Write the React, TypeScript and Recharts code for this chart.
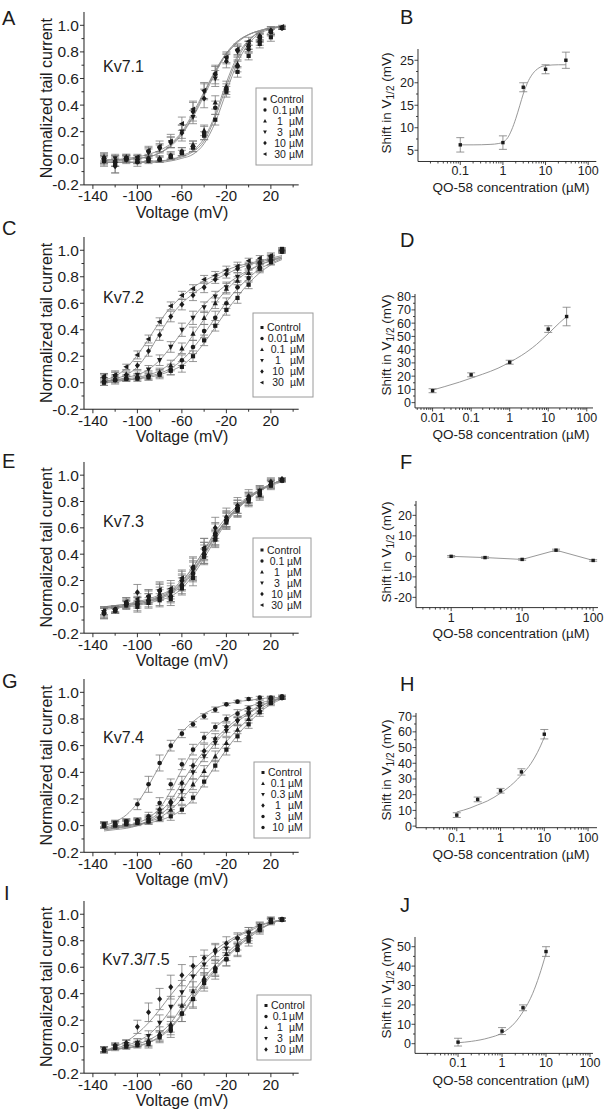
import React from 'react';
import { ComposedChart, Line, Scatter, XAxis, YAxis, ErrorBar } from 'recharts';

const FONT = '"Liberation Sans", Arial, Helvetica, sans-serif';
const INK = '#1c1c1c';
const FIT = '#8c8c8c';
const ERR = '#7c7c7c';

// ---------------- voltage axis data ----------------
const VOLTAGES = [-130, -120, -110, -100, -90, -80, -70, -60, -50, -40, -30, -20, -10, 0, 10, 20, 30];
const VOLT_TICKS = [-140, -120, -100, -80, -60, -40, -20, 0, 20, 40];
const VOLT_LABELS = [-140, -100, -60, -20, 20];
const CURRENT_TICKS = [-0.2, -0.1, 0, 0.1, 0.2, 0.3, 0.4, 0.5, 0.6, 0.7, 0.8, 0.9, 1.0];
const CURRENT_LABELS = [-0.2, 0, 0.2, 0.4, 0.6, 0.8, 1.0];

// Kv7.1
const kv71Legend = ['Control', '0.1', '1', '3', '10', '30'];
const kv71Ctrl = [-0.02, -0.03, -0.01, -0.02, -0.02, -0.01, 0.01, 0.04, 0.08, 0.17, 0.29, 0.5, 0.65, 0.77, 0.86, 0.91, 0.98];
const kv71C01 = [0.0, -0.05, 0.0, -0.03, 0.0, -0.01, 0.02, 0.05, 0.09, 0.19, 0.38, 0.52, 0.69, 0.82, 0.88, 0.95, 0.98];
const kv71C1 = [0.01, -0.02, 0.01, -0.02, 0.0, 0.0, 0.02, 0.05, 0.1, 0.21, 0.42, 0.54, 0.71, 0.85, 0.91, 0.96, 0.98];
const kv71C3 = [0.0, 0.0, 0.0, 0.0, 0.04, 0.07, 0.12, 0.2, 0.31, 0.5, 0.6, 0.75, 0.8, 0.85, 0.9, 0.95, 0.98];
const kv71C10 = [-0.02, -0.06, -0.01, -0.01, 0.05, 0.08, 0.12, 0.19, 0.35, 0.45, 0.63, 0.73, 0.81, 0.84, 0.92, 0.96, 0.98];
const kv71C30 = [-0.01, -0.02, 0.0, 0.01, 0.06, 0.09, 0.13, 0.26, 0.37, 0.51, 0.64, 0.76, 0.82, 0.88, 0.91, 0.95, 0.99];
const kv71FitCtrl = [-0.03, -0.03, -0.03, -0.03, -0.03, -0.03, -0.02, 0.0, 0.03, 0.11, 0.27, 0.5, 0.72, 0.86, 0.94, 0.97, 0.99];
const kv71Fit01 = [-0.03, -0.03, -0.03, -0.03, -0.03, -0.02, -0.01, 0.01, 0.05, 0.13, 0.31, 0.54, 0.75, 0.88, 0.95, 0.98, 0.99];
const kv71Fit1 = [-0.03, -0.03, -0.03, -0.03, -0.02, -0.02, -0.01, 0.02, 0.06, 0.15, 0.33, 0.57, 0.77, 0.89, 0.95, 0.98, 0.99];
const kv71Fit3 = [-0.02, -0.01, -0.01, 0.0, 0.01, 0.04, 0.1, 0.19, 0.32, 0.49, 0.65, 0.79, 0.88, 0.93, 0.96, 0.98, 0.99];
const kv71Fit10 = [-0.02, -0.02, -0.01, 0.0, 0.01, 0.04, 0.09, 0.18, 0.31, 0.47, 0.64, 0.78, 0.87, 0.93, 0.96, 0.98, 0.99];
const kv71Fit30 = [-0.01, -0.01, 0.0, 0.01, 0.03, 0.06, 0.11, 0.2, 0.34, 0.5, 0.66, 0.79, 0.88, 0.93, 0.96, 0.98, 0.99];
const kv71ErrCtrl = [0.03, 0.03, 0.02, 0.02, 0.02, 0.02, 0.02, 0.02, 0.03, 0.03, 0.04, 0.04, 0.04, 0.03, 0.03, 0.03, 0.01];
const kv71Err01 = [0.04, 0.06, 0.03, 0.03, 0.02, 0.02, 0.03, 0.03, 0.04, 0.05, 0.05, 0.04, 0.04, 0.03, 0.03, 0.03, 0.01];
const kv71Err1 = [0.03, 0.04, 0.02, 0.02, 0.02, 0.02, 0.02, 0.03, 0.03, 0.04, 0.05, 0.04, 0.03, 0.03, 0.03, 0.03, 0.01];
const kv71Err3 = [0.03, 0.03, 0.02, 0.02, 0.03, 0.03, 0.04, 0.05, 0.05, 0.06, 0.06, 0.04, 0.04, 0.03, 0.03, 0.02, 0.01];
const kv71Err10 = [0.04, 0.05, 0.03, 0.03, 0.03, 0.03, 0.04, 0.06, 0.07, 0.07, 0.07, 0.05, 0.04, 0.04, 0.03, 0.03, 0.01];
const kv71Err30 = [0.03, 0.04, 0.02, 0.02, 0.03, 0.04, 0.05, 0.05, 0.06, 0.06, 0.05, 0.04, 0.04, 0.03, 0.03, 0.02, 0.01];

// Kv7.2
const kv72Legend = ['Control', '0.01', '0.1', '1', '10', '30'];
const kv72Ctrl = [0.0, 0.02, 0.03, 0.03, 0.04, 0.06, 0.09, 0.12, 0.2, 0.32, 0.43, 0.55, 0.64, 0.74, 0.86, 0.91, 1.01];
const kv72C001 = [0.01, 0.02, 0.03, 0.04, 0.05, 0.07, 0.1, 0.17, 0.27, 0.39, 0.49, 0.6, 0.72, 0.79, 0.87, 0.92, 0.99];
const kv72C01 = [0.02, 0.03, 0.04, 0.05, 0.06, 0.08, 0.13, 0.26, 0.37, 0.49, 0.6, 0.71, 0.77, 0.83, 0.88, 0.94, 0.99];
const kv72C1 = [0.03, 0.05, 0.05, 0.06, 0.1, 0.17, 0.27, 0.4, 0.49, 0.57, 0.65, 0.72, 0.8, 0.86, 0.89, 0.94, 0.99];
const kv72C10 = [0.04, 0.05, 0.06, 0.13, 0.24, 0.36, 0.5, 0.59, 0.66, 0.72, 0.78, 0.82, 0.86, 0.88, 0.91, 0.95, 1.0];
const kv72C30 = [0.05, 0.06, 0.12, 0.21, 0.33, 0.46, 0.58, 0.66, 0.71, 0.78, 0.81, 0.85, 0.88, 0.92, 0.94, 0.96, 1.0];
const kv72FitCtrl = [0.0, 0.01, 0.02, 0.03, 0.04, 0.06, 0.09, 0.13, 0.2, 0.3, 0.42, 0.54, 0.65, 0.75, 0.83, 0.89, 0.93];
const kv72Fit001 = [0.0, 0.01, 0.02, 0.03, 0.05, 0.07, 0.11, 0.17, 0.26, 0.37, 0.49, 0.61, 0.71, 0.79, 0.86, 0.9, 0.94];
const kv72Fit01 = [0.01, 0.02, 0.03, 0.04, 0.06, 0.09, 0.15, 0.24, 0.36, 0.48, 0.6, 0.7, 0.78, 0.84, 0.89, 0.92, 0.95];
const kv72Fit1 = [0.01, 0.02, 0.04, 0.06, 0.1, 0.17, 0.27, 0.38, 0.49, 0.59, 0.67, 0.74, 0.8, 0.85, 0.89, 0.92, 0.94];
const kv72Fit10 = [0.01, 0.03, 0.06, 0.12, 0.23, 0.37, 0.5, 0.6, 0.67, 0.73, 0.78, 0.82, 0.86, 0.89, 0.91, 0.93, 0.95];
const kv72Fit30 = [0.02, 0.05, 0.11, 0.21, 0.33, 0.46, 0.57, 0.65, 0.72, 0.77, 0.81, 0.85, 0.88, 0.9, 0.92, 0.94, 0.96];
const kv72ErrCtrl = [0.02, 0.02, 0.02, 0.02, 0.02, 0.03, 0.03, 0.04, 0.04, 0.04, 0.04, 0.04, 0.04, 0.03, 0.03, 0.02, 0.01];
const kv72Err001 = [0.03, 0.03, 0.02, 0.02, 0.03, 0.03, 0.04, 0.04, 0.05, 0.05, 0.05, 0.04, 0.04, 0.03, 0.03, 0.03, 0.01];
const kv72Err01 = [0.02, 0.03, 0.02, 0.02, 0.03, 0.03, 0.04, 0.04, 0.05, 0.05, 0.04, 0.04, 0.03, 0.03, 0.03, 0.02, 0.01];
const kv72Err1 = [0.03, 0.03, 0.03, 0.03, 0.03, 0.04, 0.04, 0.05, 0.05, 0.04, 0.04, 0.04, 0.03, 0.03, 0.03, 0.02, 0.01];
const kv72Err10 = [0.03, 0.03, 0.03, 0.03, 0.04, 0.04, 0.04, 0.04, 0.04, 0.04, 0.03, 0.03, 0.03, 0.03, 0.02, 0.02, 0.01];
const kv72Err30 = [0.02, 0.03, 0.02, 0.03, 0.03, 0.03, 0.03, 0.03, 0.03, 0.03, 0.03, 0.03, 0.03, 0.02, 0.02, 0.02, 0.01];

// Kv7.3
const kv73Legend = ['Control', '0.1', '1', '3', '10', '30'];
const kv73Ctrl = [-0.04, -0.03, 0.01, 0.0, 0.03, 0.05, 0.06, 0.14, 0.22, 0.38, 0.51, 0.64, 0.73, 0.8, 0.85, 0.92, 0.96];
const kv73C01 = [-0.05, -0.02, 0.02, 0.02, 0.05, 0.07, 0.08, 0.16, 0.25, 0.4, 0.55, 0.66, 0.75, 0.82, 0.86, 0.93, 0.96];
const kv73C1 = [-0.03, -0.02, 0.03, 0.04, 0.06, 0.1, 0.09, 0.18, 0.27, 0.41, 0.57, 0.67, 0.76, 0.83, 0.87, 0.94, 0.97];
const kv73C3 = [-0.04, -0.03, 0.02, 0.03, 0.07, 0.11, 0.1, 0.19, 0.28, 0.42, 0.53, 0.65, 0.74, 0.81, 0.88, 0.94, 0.96];
const kv73C10 = [-0.05, -0.02, 0.03, 0.11, 0.08, 0.12, 0.12, 0.2, 0.3, 0.44, 0.6, 0.68, 0.77, 0.84, 0.88, 0.95, 0.97];
const kv73C30 = [-0.03, -0.02, 0.04, 0.06, 0.08, 0.13, 0.14, 0.22, 0.3, 0.45, 0.52, 0.66, 0.74, 0.82, 0.87, 0.93, 0.96];
const kv73FitCtrl = [-0.02, -0.01, 0.0, 0.01, 0.03, 0.05, 0.08, 0.14, 0.24, 0.37, 0.51, 0.64, 0.74, 0.82, 0.88, 0.93, 0.96];
const kv73Fit01 = [-0.01, 0.0, 0.01, 0.02, 0.04, 0.06, 0.1, 0.16, 0.26, 0.39, 0.53, 0.65, 0.75, 0.83, 0.89, 0.93, 0.96];
const kv73Fit1 = [-0.01, 0.0, 0.01, 0.02, 0.04, 0.07, 0.11, 0.17, 0.27, 0.4, 0.54, 0.66, 0.76, 0.83, 0.89, 0.93, 0.96];
const kv73Fit3 = [0.0, 0.0, 0.01, 0.03, 0.05, 0.07, 0.11, 0.18, 0.28, 0.41, 0.54, 0.66, 0.75, 0.83, 0.88, 0.93, 0.96];
const kv73Fit10 = [0.0, 0.01, 0.02, 0.03, 0.05, 0.08, 0.12, 0.19, 0.3, 0.43, 0.57, 0.68, 0.77, 0.84, 0.89, 0.93, 0.96];
const kv73Fit30 = [0.0, 0.01, 0.02, 0.04, 0.06, 0.09, 0.13, 0.2, 0.3, 0.43, 0.55, 0.66, 0.75, 0.82, 0.88, 0.92, 0.95];
const kv73ErrCtrl = [0.03, 0.02, 0.03, 0.04, 0.04, 0.05, 0.05, 0.05, 0.06, 0.06, 0.06, 0.05, 0.05, 0.04, 0.04, 0.03, 0.01];
const kv73Err01 = [0.04, 0.02, 0.03, 0.05, 0.05, 0.06, 0.05, 0.06, 0.06, 0.07, 0.08, 0.06, 0.06, 0.05, 0.04, 0.03, 0.01];
const kv73Err1 = [0.03, 0.02, 0.03, 0.04, 0.04, 0.05, 0.05, 0.06, 0.07, 0.08, 0.07, 0.06, 0.05, 0.04, 0.04, 0.03, 0.01];
const kv73Err3 = [0.04, 0.02, 0.03, 0.04, 0.05, 0.06, 0.06, 0.06, 0.07, 0.07, 0.06, 0.06, 0.05, 0.04, 0.04, 0.03, 0.01];
const kv73Err10 = [0.04, 0.03, 0.04, 0.06, 0.05, 0.06, 0.06, 0.07, 0.08, 0.08, 0.08, 0.07, 0.06, 0.05, 0.04, 0.03, 0.01];
const kv73Err30 = [0.03, 0.02, 0.03, 0.04, 0.05, 0.06, 0.06, 0.06, 0.07, 0.07, 0.06, 0.06, 0.05, 0.04, 0.04, 0.03, 0.01];

// Kv7.4
const kv74Legend = ['Control', '0.1', '0.3', '1', '3', '10'];
const kv74Ctrl = [0.0, 0.0, 0.01, 0.02, 0.03, 0.05, 0.07, 0.12, 0.21, 0.33, 0.45, 0.57, 0.67, 0.76, 0.85, 0.92, 0.96];
const kv74C01 = [0.0, 0.01, 0.02, 0.03, 0.04, 0.07, 0.12, 0.2, 0.31, 0.41, 0.52, 0.62, 0.72, 0.8, 0.87, 0.93, 0.96];
const kv74C03 = [0.01, 0.02, 0.03, 0.03, 0.04, 0.09, 0.16, 0.26, 0.4, 0.52, 0.62, 0.71, 0.78, 0.83, 0.89, 0.94, 0.96];
const kv74C1 = [0.0, 0.01, 0.02, 0.03, 0.05, 0.12, 0.18, 0.32, 0.45, 0.56, 0.65, 0.74, 0.79, 0.85, 0.9, 0.95, 0.96];
const kv74C3 = [0.01, 0.02, 0.03, 0.04, 0.07, 0.17, 0.31, 0.46, 0.57, 0.66, 0.74, 0.8, 0.84, 0.88, 0.92, 0.95, 0.96];
const kv74C10 = [0.0, 0.01, 0.03, 0.16, 0.31, 0.47, 0.6, 0.69, 0.76, 0.82, 0.87, 0.91, 0.93, 0.95, 0.96, 0.96, 0.97];
const kv74FitCtrl = [-0.01, 0.0, 0.0, 0.01, 0.02, 0.04, 0.07, 0.12, 0.2, 0.32, 0.45, 0.57, 0.68, 0.77, 0.85, 0.91, 0.95];
const kv74Fit01 = [-0.02, -0.01, 0.0, 0.01, 0.03, 0.06, 0.12, 0.2, 0.3, 0.41, 0.52, 0.63, 0.72, 0.8, 0.87, 0.92, 0.96];
const kv74Fit03 = [-0.03, -0.02, -0.01, 0.0, 0.03, 0.08, 0.15, 0.26, 0.39, 0.51, 0.62, 0.71, 0.78, 0.84, 0.89, 0.93, 0.96];
const kv74Fit1 = [-0.04, -0.03, -0.02, 0.0, 0.04, 0.1, 0.19, 0.32, 0.45, 0.56, 0.65, 0.73, 0.8, 0.85, 0.9, 0.93, 0.96];
const kv74Fit3 = [-0.03, -0.02, 0.0, 0.02, 0.06, 0.13, 0.26, 0.42, 0.56, 0.66, 0.74, 0.8, 0.85, 0.89, 0.92, 0.94, 0.96];
const kv74Fit10 = [0.0, 0.03, 0.08, 0.17, 0.3, 0.45, 0.59, 0.7, 0.78, 0.84, 0.88, 0.91, 0.93, 0.94, 0.95, 0.96, 0.96];
const kv74ErrCtrl = [0.02, 0.02, 0.02, 0.02, 0.02, 0.02, 0.03, 0.03, 0.04, 0.04, 0.04, 0.04, 0.04, 0.03, 0.03, 0.02, 0.01];
const kv74Err01 = [0.02, 0.02, 0.02, 0.02, 0.02, 0.03, 0.03, 0.04, 0.04, 0.04, 0.04, 0.04, 0.03, 0.03, 0.03, 0.02, 0.01];
const kv74Err03 = [0.02, 0.02, 0.02, 0.02, 0.03, 0.03, 0.04, 0.05, 0.05, 0.04, 0.04, 0.04, 0.03, 0.03, 0.03, 0.02, 0.01];
const kv74Err1 = [0.02, 0.02, 0.02, 0.02, 0.03, 0.03, 0.04, 0.05, 0.05, 0.05, 0.04, 0.04, 0.03, 0.03, 0.02, 0.02, 0.01];
const kv74Err3 = [0.02, 0.02, 0.02, 0.02, 0.03, 0.04, 0.04, 0.04, 0.04, 0.04, 0.03, 0.03, 0.03, 0.02, 0.02, 0.02, 0.01];
const kv74Err10 = [0.02, 0.02, 0.02, 0.04, 0.06, 0.06, 0.04, 0.03, 0.02, 0.02, 0.02, 0.01, 0.01, 0.01, 0.01, 0.01, 0.01];

// Kv7.3/7.5
const kv75Legend = ['Control', '0.1', '1', '3', '10'];
const kv75Ctrl = [-0.03, -0.01, 0.0, 0.01, 0.02, 0.07, 0.14, 0.25, 0.36, 0.48, 0.57, 0.66, 0.73, 0.8, 0.88, 0.94, 0.96];
const kv75C01 = [-0.02, 0.0, 0.01, 0.02, 0.03, 0.08, 0.12, 0.25, 0.36, 0.5, 0.59, 0.66, 0.74, 0.82, 0.89, 0.95, 0.96];
const kv75C1 = [-0.02, 0.0, 0.02, 0.03, 0.05, 0.1, 0.17, 0.31, 0.42, 0.52, 0.6, 0.7, 0.77, 0.84, 0.9, 0.95, 0.96];
const kv75C3 = [-0.02, 0.0, 0.02, 0.03, 0.08, 0.18, 0.3, 0.41, 0.53, 0.62, 0.71, 0.74, 0.81, 0.86, 0.91, 0.96, 0.96];
const kv75C10 = [-0.02, 0.01, 0.03, 0.15, 0.26, 0.36, 0.45, 0.54, 0.61, 0.67, 0.73, 0.78, 0.82, 0.86, 0.91, 0.95, 0.96];
const kv75FitCtrl = [-0.03, -0.02, -0.01, 0.0, 0.03, 0.07, 0.14, 0.24, 0.36, 0.47, 0.58, 0.67, 0.75, 0.82, 0.88, 0.93, 0.96];
const kv75Fit01 = [-0.03, -0.02, -0.01, 0.01, 0.03, 0.08, 0.15, 0.25, 0.37, 0.49, 0.59, 0.68, 0.76, 0.83, 0.89, 0.93, 0.96];
const kv75Fit1 = [-0.03, -0.02, 0.0, 0.02, 0.05, 0.1, 0.18, 0.3, 0.41, 0.52, 0.62, 0.7, 0.78, 0.84, 0.89, 0.93, 0.96];
const kv75Fit3 = [-0.03, -0.01, 0.01, 0.04, 0.09, 0.17, 0.28, 0.4, 0.52, 0.62, 0.7, 0.77, 0.83, 0.87, 0.91, 0.94, 0.96];
const kv75Fit10 = [-0.03, 0.0, 0.04, 0.1, 0.18, 0.28, 0.39, 0.49, 0.58, 0.66, 0.73, 0.79, 0.84, 0.88, 0.92, 0.94, 0.96];
const kv75ErrCtrl = [0.02, 0.02, 0.02, 0.02, 0.03, 0.04, 0.05, 0.06, 0.06, 0.06, 0.06, 0.05, 0.05, 0.04, 0.03, 0.02, 0.01];
const kv75Err01 = [0.02, 0.02, 0.02, 0.02, 0.03, 0.04, 0.05, 0.06, 0.07, 0.06, 0.06, 0.05, 0.05, 0.04, 0.03, 0.02, 0.01];
const kv75Err1 = [0.02, 0.02, 0.03, 0.03, 0.04, 0.05, 0.06, 0.07, 0.07, 0.07, 0.06, 0.05, 0.04, 0.04, 0.03, 0.02, 0.01];
const kv75Err3 = [0.02, 0.02, 0.03, 0.03, 0.04, 0.06, 0.08, 0.09, 0.08, 0.07, 0.06, 0.05, 0.04, 0.04, 0.03, 0.02, 0.01];
const kv75Err10 = [0.02, 0.02, 0.02, 0.05, 0.07, 0.08, 0.09, 0.08, 0.07, 0.06, 0.05, 0.05, 0.04, 0.04, 0.03, 0.02, 0.01];

// ---------------- dose-response data ----------------
const bConc = [0.1, 1, 3, 10, 30];
const bShift = [6.2, 6.7, 19, 23, 25];
const bErr = [1.6, 1.5, 1.0, 1.0, 1.8];
const bFitConc = [0.1, 0.2, 0.5, 0.8, 1, 1.3, 1.6, 2, 2.5, 3, 4, 5, 7, 10, 20, 30];
const bFit = [6.2, 6.2, 6.3, 6.5, 6.8, 7.8, 9.5, 12, 15, 17.5, 20.5, 22, 23.3, 23.8, 24, 24];

const dConc = [0.01, 0.1, 1, 10, 30];
const dShift = [9, 21, 30.5, 55.5, 65];
const dErr = [1.5, 1.5, 1.5, 2.5, 7];
const dFitConc = [0.01, 0.02, 0.05, 0.1, 0.2, 0.5, 1, 2, 5, 10, 20, 30];
const dFit = [9.5, 12, 15.5, 18.5, 21.5, 26, 30.5, 35.5, 44, 52, 60.5, 65];

const fConc = [1, 3, 10, 30, 100];
const fShift = [0, -0.6, -1.5, 3, -2];
const fErr = [0.4, 0.4, 0.4, 0.5, 0.4];

const hConc = [0.1, 0.3, 1, 3, 10];
const hShift = [7, 17, 22.5, 34.5, 58.5];
const hErr = [1.5, 1.5, 1.5, 2, 3];
const hFitConc = [0.1, 0.2, 0.3, 0.5, 1, 2, 3, 5, 7, 10];
const hFit = [9, 11.5, 13.5, 16, 21, 27.5, 32.5, 40, 47, 56.5];

const jConc = [0.1, 1, 3, 10];
const jShift = [0.8, 6.5, 18.5, 47.5];
const jErr = [2, 1.8, 1.5, 2.5];
const jFitConc = [0.1, 0.2, 0.5, 1, 2, 3, 5, 7, 10];
const jFit = [0.5, 1.2, 3, 5.5, 11, 16.5, 26, 35, 46.5];

// ---------------- drawing helpers ----------------
type Kind = 'square' | 'circle' | 'up' | 'down' | 'diamond' | 'left';

function Mark({ cx, cy, kind, s = 2.1 }: { cx?: number; cy?: number; kind: Kind; s?: number }) {
  if (cx == null || cy == null || isNaN(cx) || isNaN(cy)) return null;
  switch (kind) {
    case 'square':
      return <rect x={cx - s} y={cy - s} width={2 * s} height={2 * s} fill={INK} />;
    case 'circle':
      return <circle cx={cx} cy={cy} r={s * 1.1} fill={INK} />;
    case 'up':
      return <polygon points={`${cx},${cy - s * 1.4} ${cx + s * 1.25},${cy + s} ${cx - s * 1.25},${cy + s}`} fill={INK} />;
    case 'down':
      return <polygon points={`${cx},${cy + s * 1.4} ${cx + s * 1.25},${cy - s} ${cx - s * 1.25},${cy - s}`} fill={INK} />;
    case 'diamond':
      return <polygon points={`${cx},${cy - s * 1.45} ${cx + s * 1.2},${cy} ${cx},${cy + s * 1.45} ${cx - s * 1.2},${cy}`} fill={INK} />;
    default:
      return <polygon points={`${cx - s * 1.4},${cy} ${cx + s},${cy - s * 1.25} ${cx + s},${cy + s * 1.25}`} fill={INK} />;
  }
}

const near = (list: number[], v: number) => list.some((l) => Math.abs(l - v) < 1e-6);

const VoltXTick = (p: any) => {
  const v = p.payload.value;
  const major = near(VOLT_LABELS, v);
  return (
    <g>
      <line x1={p.x} x2={p.x} y1={p.y} y2={p.y + (major ? 4 : 2.5)} stroke={INK} strokeWidth={0.9} />
      {major && (
        <text x={p.x} y={p.y + 16.5} textAnchor="middle" fontSize={15} fontFamily={FONT} fill={INK}>
          {v}
        </text>
      )}
    </g>
  );
};

const CurYTick = (p: any) => {
  const v = p.payload.value;
  const major = near(CURRENT_LABELS, v);
  return (
    <g>
      <line x1={p.x} x2={p.x - (major ? 4 : 2.5)} y1={p.y} y2={p.y} stroke={INK} strokeWidth={0.9} />
      {major && (
        <text x={p.x - 5} y={p.y + 5.5} textAnchor="end" fontSize={15.5} fontFamily={FONT} fill={INK}>
          {v.toFixed(1)}
        </text>
      )}
    </g>
  );
};

const makeLogXTick = (majors: number[]) => (p: any) => {
  const v = p.payload.value;
  const major = near(majors, v);
  return (
    <g>
      <line x1={p.x} x2={p.x} y1={p.y} y2={p.y + (major ? 3.5 : 2)} stroke={INK} strokeWidth={0.8} />
      {major && (
        <text x={p.x} y={p.y + 14} textAnchor="middle" fontSize={12.5} fontFamily={FONT} fill={INK}>
          {String(v)}
        </text>
      )}
    </g>
  );
};

const makeLinYTick = (majors: number[]) => (p: any) => {
  const v = p.payload.value;
  const major = near(majors, v);
  return (
    <g>
      <line x1={p.x} x2={p.x - (major ? 3.5 : 2)} y1={p.y} y2={p.y} stroke={INK} strokeWidth={0.8} />
      {major && (
        <text x={p.x - 4} y={p.y + 4.5} textAnchor="end" fontSize={12.5} fontFamily={FONT} fill={INK}>
          {String(v)}
        </text>
      )}
    </g>
  );
};

function logTicks(lo: number, hi: number) {
  const out: number[] = [];
  [0.001, 0.01, 0.1, 1, 10, 100].forEach((d) => {
    for (let m = 1; m <= 9; m++) {
      const v = parseFloat((m * d).toPrecision(6));
      if (v >= lo && v <= hi) out.push(v);
    }
  });
  return out;
}

// ---------------- left (voltage) panels ----------------
const LEFT_L = 84;
const LEFT_R = 298.7;

type VoltCfg = {
  top: number;
  bottom: number;
  pts: number[][];
  fits: number[][];
  errs: number[][];
  kinds: Kind[];
};

function VoltageChart({ cfg }: { cfg: VoltCfg }) {
  const pl = LEFT_L;
  const pr = LEFT_R;
  const W = pr - pl + 70;
  const H = cfg.bottom - cfg.top + 45;
  const rows = VOLTAGES.map((v, i) => {
    const r: any = { v };
    cfg.fits.forEach((f, j) => {
      r['f' + j] = f[i];
    });
    return r;
  });
  return (
    <div style={{ position: 'absolute', left: pl - 60, top: cfg.top - 10 }}>
      <ComposedChart width={W} height={H} data={rows} margin={{ top: 10, right: 10, left: 20, bottom: 5 }}>
        <XAxis
          dataKey="v"
          type="number"
          domain={[-148, 45]}
          allowDataOverflow
          ticks={VOLT_TICKS}
          interval={0}
          height={30}
          tickSize={0}
          tickMargin={0}
          tickLine={false}
          axisLine={{ stroke: INK, strokeWidth: 1 }}
          tick={VoltXTick}
        />
        <YAxis
          type="number"
          domain={[-0.2, 1.1]}
          allowDataOverflow
          ticks={CURRENT_TICKS}
          interval={0}
          width={40}
          tickSize={0}
          tickMargin={0}
          tickLine={false}
          axisLine={{ stroke: INK, strokeWidth: 1 }}
          tick={CurYTick}
        />
        {cfg.fits.map((_, j) => (
          <Line
            key={'fit' + j}
            dataKey={'f' + j}
            type="monotone"
            stroke={FIT}
            strokeWidth={0.9}
            dot={false}
            activeDot={false}
            isAnimationActive={false}
          />
        ))}
        {cfg.pts.map((series, j) => {
          const data = VOLTAGES.map((v, i) => ({ v, y: series[i], e: cfg.errs[j][i] }));
          const kind = cfg.kinds[j];
          return (
            <Scatter
              key={'pts' + j}
              data={data}
              dataKey="y"
              isAnimationActive={false}
              shape={(p: any) => <Mark cx={p.cx} cy={p.cy} kind={kind} />}
            >
              <ErrorBar dataKey="e" direction="y" width={4} stroke={ERR} strokeWidth={0.8} />
            </Scatter>
          );
        })}
      </ComposedChart>
    </div>
  );
}

// ---------------- right (dose) panels ----------------
type DoseCfg = {
  l: number;
  r: number;
  t: number;
  b: number;
  xDomain: [number, number];
  xMajors: number[];
  yDomain: [number, number];
  yTicks: number[];
  yMajors: number[];
  conc: number[];
  shift: number[];
  err: number[];
  fitConc: number[];
  fit: number[];
  straight?: boolean;
};

function DoseChart({ cfg }: { cfg: DoseCfg }) {
  const W = cfg.r - cfg.l + 55;
  const H = cfg.b - cfg.t + 35;
  const fitRows = cfg.fitConc.map((c, i) => ({ c, f: cfg.fit[i] }));
  const ptRows = cfg.conc.map((c, i) => ({ c, y: cfg.shift[i], e: cfg.err[i] }));
  return (
    <div style={{ position: 'absolute', left: cfg.l - 45, top: cfg.t - 10 }}>
      <ComposedChart width={W} height={H} data={fitRows} margin={{ top: 10, right: 10, left: 5, bottom: 5 }}>
        <XAxis
          dataKey="c"
          type="number"
          scale="log"
          domain={cfg.xDomain}
          allowDataOverflow
          ticks={logTicks(cfg.xDomain[0], cfg.xDomain[1])}
          interval={0}
          height={20}
          tickSize={0}
          tickMargin={0}
          tickLine={false}
          axisLine={{ stroke: INK, strokeWidth: 0.9 }}
          tick={makeLogXTick(cfg.xMajors)}
        />
        <YAxis
          type="number"
          domain={cfg.yDomain}
          allowDataOverflow
          ticks={cfg.yTicks}
          interval={0}
          width={40}
          tickSize={0}
          tickMargin={0}
          tickLine={false}
          axisLine={{ stroke: INK, strokeWidth: 0.9 }}
          tick={makeLinYTick(cfg.yMajors)}
        />
        <Line
          dataKey="f"
          type={cfg.straight ? 'linear' : 'monotone'}
          stroke={FIT}
          strokeWidth={0.9}
          dot={false}
          activeDot={false}
          isAnimationActive={false}
        />
        <Scatter
          data={ptRows}
          dataKey="y"
          isAnimationActive={false}
          shape={(p: any) => <Mark cx={p.cx} cy={p.cy} kind="square" s={1.7} />}
        >
          <ErrorBar dataKey="e" direction="y" width={4} stroke={ERR} strokeWidth={0.8} />
        </Scatter>
      </ComposedChart>
    </div>
  );
}

// ---------------- legend & labels ----------------
function LegendBox({
  x,
  y,
  w,
  h,
  labels,
  kinds,
  numX,
  muX,
}: {
  x: number;
  y: number;
  w: number;
  h: number;
  labels: string[];
  kinds: Kind[];
  numX: number;
  muX: number;
}) {
  const gap = 11;
  const first = y + h / 2 - (gap * (labels.length - 1)) / 2;
  return (
    <g>
      <rect x={x} y={y} width={w} height={h} fill="#fff" stroke="#9a9a9a" strokeWidth={1} />
      {labels.map((lab, i) => {
        const cy = first + i * gap;
        return (
          <g key={i}>
            <Mark cx={x + 9} cy={cy} kind={kinds[i]} s={1.5} />
            {lab === 'Control' ? (
              <text x={x + 14} y={cy + 3.8} fontSize={10.5} fontFamily={FONT} fill={INK}>
                Control
              </text>
            ) : (
              <>
                <text x={x + numX} y={cy + 3.8} textAnchor="middle" fontSize={10.5} fontFamily={FONT} fill={INK}>
                  {lab}
                </text>
                <text x={x + muX} y={cy + 3.8} fontSize={10.5} fontFamily={FONT} fill={INK}>
                  µM
                </text>
              </>
            )}
          </g>
        );
      })}
    </g>
  );
}

const SIX: Kind[] = ['square', 'circle', 'up', 'down', 'diamond', 'left'];
const SIX74: Kind[] = ['square', 'up', 'down', 'diamond', 'circle', 'circle'];
const FIVE: Kind[] = ['square', 'circle', 'up', 'down', 'diamond'];

const voltPanels: VoltCfg[] = [
  {
    top: 11.7,
    bottom: 184.6,
    pts: [kv71Ctrl, kv71C01, kv71C1, kv71C3, kv71C10, kv71C30],
    fits: [kv71FitCtrl, kv71Fit01, kv71Fit1, kv71Fit3, kv71Fit10, kv71Fit30],
    errs: [kv71ErrCtrl, kv71Err01, kv71Err1, kv71Err3, kv71Err10, kv71Err30],
    kinds: SIX,
  },
  {
    top: 236.75,
    bottom: 409,
    pts: [kv72Ctrl, kv72C001, kv72C01, kv72C1, kv72C10, kv72C30],
    fits: [kv72FitCtrl, kv72Fit001, kv72Fit01, kv72Fit1, kv72Fit10, kv72Fit30],
    errs: [kv72ErrCtrl, kv72Err001, kv72Err01, kv72Err1, kv72Err10, kv72Err30],
    kinds: SIX,
  },
  {
    top: 461.8,
    bottom: 633,
    pts: [kv73Ctrl, kv73C01, kv73C1, kv73C3, kv73C10, kv73C30],
    fits: [kv73FitCtrl, kv73Fit01, kv73Fit1, kv73Fit3, kv73Fit10, kv73Fit30],
    errs: [kv73ErrCtrl, kv73Err01, kv73Err1, kv73Err3, kv73Err10, kv73Err30],
    kinds: SIX,
  },
  {
    top: 678.7,
    bottom: 852,
    pts: [kv74Ctrl, kv74C01, kv74C03, kv74C1, kv74C3, kv74C10],
    fits: [kv74FitCtrl, kv74Fit01, kv74Fit03, kv74Fit1, kv74Fit3, kv74Fit10],
    errs: [kv74ErrCtrl, kv74Err01, kv74Err03, kv74Err1, kv74Err3, kv74Err10],
    kinds: SIX74,
  },
  {
    top: 900.8,
    bottom: 1073,
    pts: [kv75Ctrl, kv75C01, kv75C1, kv75C3, kv75C10],
    fits: [kv75FitCtrl, kv75Fit01, kv75Fit1, kv75Fit3, kv75Fit10],
    errs: [kv75ErrCtrl, kv75Err01, kv75Err1, kv75Err3, kv75Err10],
    kinds: FIVE,
  },
];

const doseNoFit = { fitConc: fConc, fit: fShift };

const dosePanels: DoseCfg[] = [
  {
    l: 417.7, r: 596, t: 48.75, b: 161.25,
    xDomain: [0.0102, 155], xMajors: [0.1, 1, 10, 100],
    yDomain: [2.5, 27.5], yTicks: [5, 7.5, 10, 12.5, 15, 17.5, 20, 22.5, 25], yMajors: [5, 10, 15, 20, 25],
    conc: bConc, shift: bShift, err: bErr, fitConc: bFitConc, fit: bFit,
  },
  {
    l: 415, r: 593, t: 294.35, b: 408.3,
    xDomain: [0.0035, 145], xMajors: [0.01, 0.1, 1, 10, 100],
    yDomain: [-4, 82], yTicks: [0, 5, 10, 15, 20, 25, 30, 35, 40, 45, 50, 55, 60, 65, 70, 75, 80], yMajors: [0, 10, 20, 30, 40, 50, 60, 70, 80],
    conc: dConc, shift: dShift, err: dErr, fitConc: dFitConc, fit: dFit,
  },
  {
    l: 416, r: 598, t: 500.65, b: 607.25,
    xDomain: [0.32, 117], xMajors: [1, 10, 100],
    yDomain: [-25, 27], yTicks: [-20, -15, -10, -5, 0, 5, 10, 15, 20, 25], yMajors: [-20, -10, 0, 10, 20],
    conc: fConc, shift: fShift, err: fErr, ...doseNoFit, straight: true,
  },
  {
    l: 416, r: 597, t: 712.9, b: 827.6,
    xDomain: [0.0117, 160], xMajors: [0.1, 1, 10, 100],
    yDomain: [-1, 72], yTicks: [0, 5, 10, 15, 20, 25, 30, 35, 40, 45, 50, 55, 60, 65, 70], yMajors: [0, 10, 20, 30, 40, 50, 60, 70],
    conc: hConc, shift: hShift, err: hErr, fitConc: hFitConc, fit: hFit,
  },
  {
    l: 415, r: 593, t: 937.3, b: 1053.7,
    xDomain: [0.0105, 117], xMajors: [0.1, 1, 10, 100],
    yDomain: [-5, 55], yTicks: [0, 5, 10, 15, 20, 25, 30, 35, 40, 45, 50], yMajors: [0, 10, 20, 30, 40, 50],
    conc: jConc, shift: jShift, err: jErr, fitConc: jFitConc, fit: jFit,
  },
];

const PANEL_LETTERS = [
  { t: 'A', x: 2, y: 25 },
  { t: 'C', x: 2, y: 235 },
  { t: 'E', x: 2, y: 468 },
  { t: 'G', x: 2, y: 688 },
  { t: 'I', x: 4, y: 900 },
  { t: 'B', x: 400, y: 24 },
  { t: 'D', x: 400, y: 247 },
  { t: 'F', x: 400, y: 469 },
  { t: 'H', x: 400, y: 691 },
  { t: 'J', x: 400, y: 912 },
];

const CHANNELS = [
  { t: 'Kv7.1', x: 103, y: 72 },
  { t: 'Kv7.2', x: 103, y: 303 },
  { t: 'Kv7.3', x: 103, y: 527 },
  { t: 'Kv7.4', x: 103, y: 743 },
  { t: 'Kv7.3/7.5', x: 102, y: 965 },
];

const LEGENDS = [
  { x: 256, y: 88, w: 56, h: 77, labels: kv71Legend, kinds: SIX, numX: 24, muX: 33 },
  { x: 253, y: 313, w: 60, h: 84, labels: kv72Legend, kinds: SIX, numX: 25, muX: 37 },
  { x: 253, y: 538, w: 58, h: 79, labels: kv73Legend, kinds: SIX, numX: 24, muX: 34 },
  { x: 254, y: 762, w: 56, h: 76, labels: kv74Legend, kinds: SIX74, numX: 24, muX: 34 },
  { x: 257, y: 995, w: 54, h: 65, labels: kv75Legend, kinds: FIVE, numX: 23, muX: 32 },
];

function Overlay() {
  return (
    <svg
      width={604}
      height={1111}
      style={{ position: 'absolute', left: 0, top: 0, pointerEvents: 'none' }}
      fontFamily={FONT}
    >
      {PANEL_LETTERS.map((p) => (
        <text key={p.t} x={p.x} y={p.y} fontSize={20} fill={INK}>
          {p.t}
        </text>
      ))}
      {CHANNELS.map((c) => (
        <text key={c.t} x={c.x} y={c.y} fontSize={16} fill={INK}>
          {c.t}
        </text>
      ))}
      {voltPanels.map((p, i) => (
        <g key={'vt' + i}>
          <text
            transform={`translate(52,${(p.top + p.bottom) / 2}) rotate(-90)`}
            textAnchor="middle"
            fontSize={16}
            fill={INK}
          >
            Normalized tail current
          </text>
          <text x={182} y={p.bottom + 33} textAnchor="middle" fontSize={16} fill={INK}>
            Voltage (mV)
          </text>
        </g>
      ))}
      {dosePanels.map((p, i) => {
        const centers = [103, 345, 552, 770, 988];
        return (
          <g key={'dt' + i}>
            <text
              transform={`translate(391,${centers[i]}) rotate(-90)`}
              textAnchor="middle"
              fontSize={13.5}
              fill={INK}
            >
              Shift in V
              <tspan fontSize={10} dy={3}>
                1/2
              </tspan>
              <tspan dy={-3}> (mV)</tspan>
            </text>
            <text x={511} y={p.b + 31} textAnchor="middle" fontSize={13.5} fill={INK}>
              QO-58 concentration (µM)
            </text>
          </g>
        );
      })}
      {LEGENDS.map((l, i) => (
        <LegendBox key={'lg' + i} {...l} />
      ))}
    </svg>
  );
}

export default function App() {
  return (
    <div style={{ position: 'absolute', left: 0, top: 0, width: 604, height: 1111, background: '#fff', fontFamily: FONT }}>
      {voltPanels.map((cfg, i) => (
        <VoltageChart key={'v' + i} cfg={cfg} />
      ))}
      {dosePanels.map((cfg, i) => (
        <DoseChart key={'d' + i} cfg={cfg} />
      ))}
      <Overlay />
    </div>
  );
}
